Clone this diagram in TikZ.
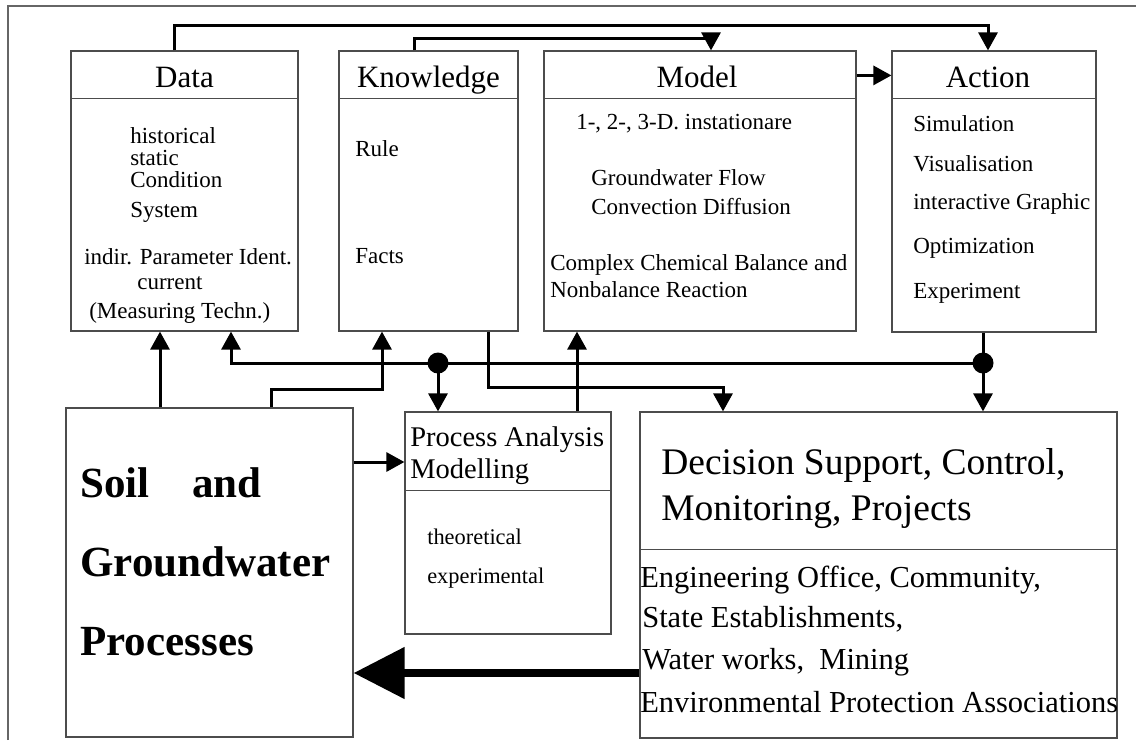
\documentclass[tikz,border=0pt]{standalone}
\usepackage{fontspec}
\setmainfont{Liberation Serif}
\usetikzlibrary{arrows.meta}

\begin{document}
\begin{tikzpicture}[
            x = 1pt, y = -1pt, % pixel grid
            > = {Triangle[width=19pt,length=18pt]}, % arrow head style
            semithick % line style
        ]

        \tikzstyle{box}=[
            draw = black!70,
            line width = 1.2pt,
            inner sep = 0pt
        ]
        \tikzstyle{divide}=[draw = black!70, line width = 1.2pt]
        \tikzstyle{conn}=[line width = 3pt]
        \tikzstyle{dot}=[circle, fill = black, minimum size = 21pt, inner sep = 0pt]
        \tikzstyle{title}=[font = \fontsize{31}{31}\selectfont, inner sep = 0pt, anchor = base]
        \tikzstyle{txt}=[font = \fontsize{23}{23}\selectfont, inner sep = 0pt, anchor = west]
        \tikzstyle{ptitle}=[font = \fontsize{28.5}{28.5}\selectfont, inner sep = 0pt, anchor = west]
        \tikzstyle{ptxt}=[font = \fontsize{22.4}{22.4}\selectfont, inner sep = 0pt, anchor = west]
        \tikzstyle{big}=[font = \fontsize{43}{43}\selectfont\bfseries, inner sep = 0pt, anchor = west]
        \tikzstyle{head}=[font = \fontsize{37.5}{37.5}\selectfont, inner sep = 0pt, anchor = west]
        \tikzstyle{list}=[font = \fontsize{30.5}{30.5}\selectfont, inner sep = 0pt, anchor = west]

        \useasboundingbox (0,0) rectangle (1136,740);
        \draw[black!60, line width = 1.5pt] (8,740) -- (8,6) -- (1136,6);

        % top row
        \node[box, minimum width = 227pt, minimum height = 280pt] (data) at (184.5,191) {};
        \node[box, minimum width = 179pt, minimum height = 280pt] (know) at (428.5,191) {};
        \node[box, minimum width = 312pt, minimum height = 280pt] (model) at (700,191) {};
        \node[box, minimum width = 204pt, minimum height = 281pt] (action) at (994,191.5) {};

        % bottom row
        \node[box, minimum width = 287pt, minimum height = 329pt] (soil) at (209.5,572.5) {};
        \node[box, minimum width = 206pt, minimum height = 222pt] (proc) at (508,523) {};
        \node[box, minimum width = 477pt, minimum height = 326pt] (decis) at (878.5,575) {};

        \draw[divide] ([yshift=-48pt]data.north west) -- ([yshift=-48pt]data.north east);
        \draw[divide] ([yshift=-48pt]know.north west) -- ([yshift=-48pt]know.north east);
        \draw[divide] ([yshift=-48pt]model.north west) -- ([yshift=-48pt]model.north east);
        \draw[divide] ([yshift=-48pt]action.north west) -- ([yshift=-48pt]action.north east);
        \draw[divide] ([yshift=-79pt]proc.north west) -- ([yshift=-79pt]proc.north east);
        \draw[divide] ([yshift=-138pt]decis.north west) -- ([yshift=-138pt]decis.north east);

        \node[title] (dataT) at ([yshift=-37pt]data.north) {Data};
        \node[title] (knowT) at ([yshift=-37pt]know.north) {Knowledge};
        \node[title] (modelT) at ([xshift=-3pt,yshift=-37pt]model.north) {Model};
        \node[title] (actionT) at ([xshift=-6pt,yshift=-37pt]action.north) {Action};

        \node[txt] (hist) at (130,136) {historical};
        \node[txt] (stat) at (130,158) {static};
        \node[txt] (cond) at (130,180) {Condition};
        \node[txt] (syst) at (130,212) {System};
        \node[txt] (indir) at (84,257) {indir. Parameter Ident.};
        \node[txt] (curr) at (137,283) {current};
        \node[txt] (meas) at (89,313) {(Measuring Techn.)};

        \node[txt] (rule) at (355,149) {Rule};
        \node[txt] (facts) at (355,256) {Facts};

        \node[txt] (dims) at (576,124) {1-, 2-, 3-D. instationare};
        \node[txt] (flow) at (591,178) {Groundwater Flow};
        \node[txt] (conv) at (591,207) {Convection Diffusion};
        \node[txt] (chem) at (550,265) {Complex Chemical Balance and};
        \node[txt] (react) at (550,290) {Nonbalance Reaction};

        \node[txt] (simu) at (913,124) {Simulation};
        \node[txt] (visu) at (913,164) {Visualisation};
        \node[txt] (graph) at (913,204) {interactive Graphic};
        \node[txt] (optim) at (913,248) {Optimization};
        \node[txt] (expt) at (913,293) {Experiment};

        \node[big] (soilA) at (80,483) {Soil};
        \node[big] (soilB) at (192,483) {and};
        \node[big] (soilC) at (80,562) {Groundwater};
        \node[big] (soilD) at (80,642) {Processes};

        \node[ptitle] (procA) at (410,440) {Process Analysis};
        \node[ptitle] (procB) at (410,472) {Modelling};
        \node[ptxt] (theo) at (427,537) {theoretical};
        \node[ptxt] (expm) at (427,578) {experimental};

        \node[head] (decA) at (661,465) {Decision Support, Control,};
        \node[head] (decB) at (661,512) {Monitoring, Projects};
        \node[list] (engi) at (640,580) {Engineering Office, Community,};
        \node[list] (state) at (642,619) {State Establishments,};
        \node[list] (water) at (642,662) {Water works,\ \ Mining};
        \node[list] (envi) at (640,702) {Environmental Protection Associations};

        % junctions
        \node[dot] (dotR) at (983,363) {};
        \node[dot] (dotL) at (438,363) {};

        \draw[conn, ->] ([xshift=-10.5pt]data.north) |- ([xshift=-6pt,yshift=25pt]action.north) -- ([xshift=-6pt]action.north);
        \draw[conn, ->] ([xshift=-14.5pt]know.north) |- ([xshift=11pt,yshift=12pt]model.north) -- ([xshift=11pt]model.north);
        \draw[conn, ->] ([yshift=-25pt]model.north east) -- ([yshift=-25pt]action.north west);

        \draw[conn, ->] ([xshift=-49.5pt]soil.north) -- ([xshift=-24.5pt]data.south);
        \draw[conn, ->] ([xshift=61.5pt]soil.north) |- ([xshift=-46.5pt,yshift=-58pt]know.south) -- ([xshift=-46.5pt]know.south);

        \draw[conn] ([xshift=-11pt]action.south) -- (dotR.center);
        \draw[conn, ->] (dotR.center) -- ([xshift=104.5pt]decis.north);
        \draw[conn, ->] (dotR.center) -| ([xshift=46.5pt]data.south);
        \draw[conn, ->] (dotL.center) -- ([xshift=-70pt]proc.north);

        \draw[conn, ->] ([xshift=59.5pt]know.south) |- ([xshift=-155.5pt,yshift=24pt]decis.north) -- ([xshift=-155.5pt]decis.north);
        \draw[conn, ->] ([xshift=69pt]proc.north) -- ([xshift=-123pt]model.south);
        \draw[conn, ->] ([yshift=110.5pt]soil.east) -- ([yshift=110.5pt]soil.east -| proc.west);

        \draw[line width = 8pt, -{Triangle[width=50pt,length=51pt]}] ([yshift=-98pt]decis.west) -- ([yshift=-98pt]decis.west -| soil.east);
    \end{tikzpicture}
\end{document}
